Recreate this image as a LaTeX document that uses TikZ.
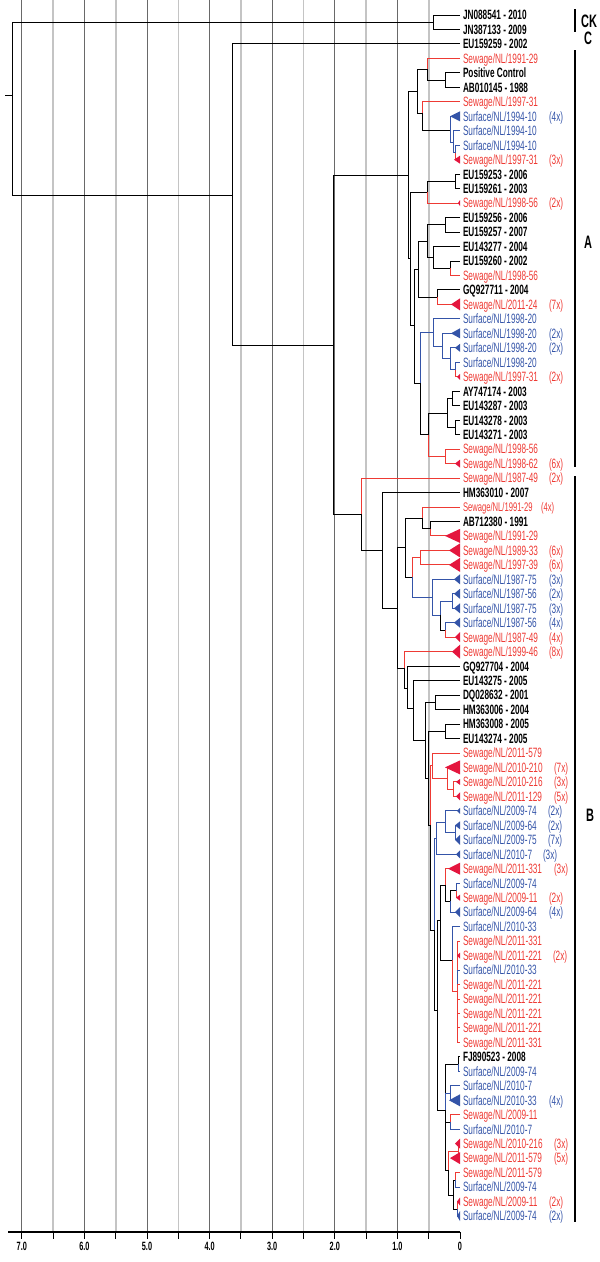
\documentclass[tikz,border=0pt]{standalone}
\usepackage{fontspec}
\setmainfont{Liberation Sans}[FakeStretch=0.61]
\usetikzlibrary{positioning}
\definecolor{sewred}{RGB}{238,58,52}
\definecolor{surblue}{RGB}{52,84,168}
\definecolor{trired}{RGB}{228,22,62}
\definecolor{lightgrey}{RGB}{196,196,196}
\definecolor{darkgrey}{RGB}{105,105,105}
\newcommand*{\leaffont}{\fontsize{13.5}{14}\selectfont}
\newcommand*{\branch}[3][bk]{\draw[#1] (#2) |- (#3);}
\newcommand*{\collapse}[4]{\fill[#1] (#2.west) ++(-#3,0) -- ++(#3,-#4) -- ++(0,2*#4) -- cycle;}
\tikzstyle{base}=[x=1pt, y=-1pt, inner sep=0pt, outer sep=0pt]
\tikzstyle{acc}=[anchor=west, inner xsep=3pt, text height=9.7pt, text depth=0pt, font=\leaffont\bfseries]
\tikzstyle{sew}=[acc, font=\leaffont, text=sewred]
\tikzstyle{sur}=[acc, font=\leaffont, text=surblue]
\tikzstyle{cnt}=[anchor=west, text height=9.7pt, text depth=0pt, font=\leaffont]
\tikzstyle{cntr}=[cnt, text=sewred]
\tikzstyle{cntb}=[cnt, text=surblue]
\tikzstyle{bk}=[line width=1pt, black]
\tikzstyle{rd}=[line width=1pt, sewred]
\tikzstyle{bl}=[line width=1pt, surblue]
\tikzstyle{gridmaj}=[line width=0.9pt, darkgrey]
\tikzstyle{gridmin}=[line width=1.6pt, lightgrey]
\tikzstyle{clade}=[font=\fontsize{18}{18}\selectfont\bfseries]
\tikzstyle{axlab}=[font=\fontsize{12}{12}\selectfont\bfseries]

\begin{document}
\begin{tikzpicture}[base]
    \useasboundingbox (0,0) rectangle (600,1262);
    % grid
    \draw[gridmin] (428.7,0) -- (428.7,1232);
    \draw[gridmaj] (397.4,0) -- (397.4,1232);
    \draw[gridmin] (366.1,0) -- (366.1,1232);
    \draw[gridmaj] (334.8,0) -- (334.8,1232);
    \draw[gridmin] (303.5,0) -- (303.5,1232);
    \draw[gridmaj] (272.2,0) -- (272.2,1232);
    \draw[gridmin] (240.9,0) -- (240.9,1232);
    \draw[gridmaj] (209.6,0) -- (209.6,1232);
    \draw[gridmin] (178.3,0) -- (178.3,1232);
    \draw[gridmaj] (147.0,0) -- (147.0,1232);
    \draw[gridmin] (115.7,0) -- (115.7,1232);
    \draw[gridmaj] (84.4,0) -- (84.4,1232);
    \draw[gridmin] (53.1,0) -- (53.1,1232);
    \draw[gridmaj] (21.8,0) -- (21.8,1232);
    % axis
    \draw[line width=1.4pt] (8,1232) -- (460,1232);
    \draw[line width=1pt] (460,1232) -- ++(0,7);
    \draw[line width=1pt] (428.7,1232) -- ++(0,7);
    \draw[line width=1pt] (397.4,1232) -- ++(0,7);
    \draw[line width=1pt] (366.1,1232) -- ++(0,7);
    \draw[line width=1pt] (334.8,1232) -- ++(0,7);
    \draw[line width=1pt] (303.5,1232) -- ++(0,7);
    \draw[line width=1pt] (272.2,1232) -- ++(0,7);
    \draw[line width=1pt] (240.9,1232) -- ++(0,7);
    \draw[line width=1pt] (209.6,1232) -- ++(0,7);
    \draw[line width=1pt] (178.3,1232) -- ++(0,7);
    \draw[line width=1pt] (147.0,1232) -- ++(0,7);
    \draw[line width=1pt] (115.7,1232) -- ++(0,7);
    \draw[line width=1pt] (84.4,1232) -- ++(0,7);
    \draw[line width=1pt] (53.1,1232) -- ++(0,7);
    \draw[line width=1pt] (21.8,1232) -- ++(0,7);
    \node[axlab] (ax0) at (460,1246) {0};
    \node[axlab] (ax1) at (397.4,1246) {1.0};
    \node[axlab] (ax2) at (334.8,1246) {2.0};
    \node[axlab] (ax3) at (272.2,1246) {3.0};
    \node[axlab] (ax4) at (209.6,1246) {4.0};
    \node[axlab] (ax5) at (147.0,1246) {5.0};
    \node[axlab] (ax6) at (84.4,1246) {6.0};
    \node[axlab] (ax7) at (21.8,1246) {7.0};

    % leaves
    \node[acc] (l1) at (460,15.0) {JN088541 - 2010};
    \node[acc] (l2) at (460,29.5) {JN387133 - 2009};
    \node[acc] (l3) at (460,43.9) {EU159259 - 2002};
    \node[sew] (l4) at (460,58.4) {Sewage/NL/1991-29};
    \node[acc] (l5) at (460,72.9) {Positive Control};
    \node[acc] (l6) at (460,87.4) {AB010145 - 1988};
    \node[sew] (l7) at (460,101.8) {Sewage/NL/1997-31};
    \node[sur] (l8) at (460,116.3) {Surface/NL/1994-10};
    \node[sur] (l9) at (460,130.8) {Surface/NL/1994-10};
    \node[sur] (l10) at (460,145.2) {Surface/NL/1994-10};
    \node[sew] (l11) at (460,159.7) {Sewage/NL/1997-31};
    \node[acc] (l12) at (460,174.2) {EU159253 - 2006};
    \node[acc] (l13) at (460,188.6) {EU159261 - 2003};
    \node[sew] (l14) at (460,203.1) {Sewage/NL/1998-56};
    \node[acc] (l15) at (460,217.6) {EU159256 - 2006};
    \node[acc] (l16) at (460,232.1) {EU159257 - 2007};
    \node[acc] (l17) at (460,246.5) {EU143277 - 2004};
    \node[acc] (l18) at (460,261.0) {EU159260 - 2002};
    \node[sew] (l19) at (460,275.5) {Sewage/NL/1998-56};
    \node[acc] (l20) at (460,289.9) {GQ927711 - 2004};
    \node[sew] (l21) at (460,304.4) {Sewage/NL/2011-24};
    \node[sur] (l22) at (460,318.9) {Surface/NL/1998-20};
    \node[sur] (l23) at (460,333.3) {Surface/NL/1998-20};
    \node[sur] (l24) at (460,347.8) {Surface/NL/1998-20};
    \node[sur] (l25) at (460,362.3) {Surface/NL/1998-20};
    \node[sew] (l26) at (460,376.8) {Sewage/NL/1997-31};
    \node[acc] (l27) at (460,391.2) {AY747174 - 2003};
    \node[acc] (l28) at (460,405.7) {EU143287 - 2003};
    \node[acc] (l29) at (460,420.2) {EU143278 - 2003};
    \node[acc] (l30) at (460,434.6) {EU143271 - 2003};
    \node[sew] (l31) at (460,449.1) {Sewage/NL/1998-56};
    \node[sew] (l32) at (460,463.6) {Sewage/NL/1998-62};
    \node[sew] (l33) at (460,478.0) {Sewage/NL/1987-49};
    \node[acc] (l34) at (460,492.5) {HM363010 - 2007};
    \node[sew, font=\fontsize{12.5}{13}\selectfont] (l35) at (460,507.0) {Sewage/NL/1991-29};
    \node[acc] (l36) at (460,521.5) {AB712380 - 1991};
    \node[sew] (l37) at (460,535.9) {Sewage/NL/1991-29};
    \node[sew] (l38) at (460,550.4) {Sewage/NL/1989-33};
    \node[sew] (l39) at (460,564.9) {Sewage/NL/1997-39};
    \node[sur] (l40) at (460,579.3) {Surface/NL/1987-75};
    \node[sur] (l41) at (460,593.8) {Surface/NL/1987-56};
    \node[sur] (l42) at (460,608.3) {Surface/NL/1987-75};
    \node[sur] (l43) at (460,622.7) {Surface/NL/1987-56};
    \node[sew] (l44) at (460,637.2) {Sewage/NL/1987-49};
    \node[sew] (l45) at (460,651.7) {Sewage/NL/1999-46};
    \node[acc] (l46) at (460,666.2) {GQ927704 - 2004};
    \node[acc] (l47) at (460,680.6) {EU143275 - 2005};
    \node[acc] (l48) at (460,695.1) {DQ028632 - 2001};
    \node[acc] (l49) at (460,709.6) {HM363006 - 2004};
    \node[acc] (l50) at (460,724.0) {HM363008 - 2005};
    \node[acc] (l51) at (460,738.5) {EU143274 - 2005};
    \node[sew] (l52) at (460,753.0) {Sewage/NL/2011-579};
    \node[sew] (l53) at (460,767.4) {Sewage/NL/2010-210};
    \node[sew] (l54) at (460,781.9) {Sewage/NL/2010-216};
    \node[sew] (l55) at (460,796.4) {Sewage/NL/2011-129};
    \node[sur] (l56) at (460,810.9) {Surface/NL/2009-74};
    \node[sur] (l57) at (460,825.3) {Surface/NL/2009-64};
    \node[sur] (l58) at (460,839.8) {Surface/NL/2009-75};
    \node[sur] (l59) at (460,854.3) {Surface/NL/2010-7};
    \node[sew] (l60) at (460,868.7) {Sewage/NL/2011-331};
    \node[sur] (l61) at (460,883.2) {Surface/NL/2009-74};
    \node[sew] (l62) at (460,897.7) {Sewage/NL/2009-11};
    \node[sur] (l63) at (460,912.1) {Surface/NL/2009-64};
    \node[sur] (l64) at (460,926.6) {Surface/NL/2010-33};
    \node[sew] (l65) at (460,941.1) {Sewage/NL/2011-331};
    \node[sew] (l66) at (460,955.6) {Sewage/NL/2011-221};
    \node[sur] (l67) at (460,970.0) {Surface/NL/2010-33};
    \node[sew] (l68) at (460,984.5) {Sewage/NL/2011-221};
    \node[sew] (l69) at (460,999.0) {Sewage/NL/2011-221};
    \node[sew] (l70) at (460,1013.4) {Sewage/NL/2011-221};
    \node[sew] (l71) at (460,1027.9) {Sewage/NL/2011-221};
    \node[sew] (l72) at (460,1042.4) {Sewage/NL/2011-331};
    \node[acc] (l73) at (460,1056.8) {FJ890523 - 2008};
    \node[sur] (l74) at (460,1071.3) {Surface/NL/2009-74};
    \node[sur] (l75) at (460,1085.8) {Surface/NL/2010-7};
    \node[sur] (l76) at (460,1100.3) {Surface/NL/2010-33};
    \node[sew] (l77) at (460,1114.7) {Sewage/NL/2009-11};
    \node[sur] (l78) at (460,1129.2) {Surface/NL/2010-7};
    \node[sew] (l79) at (460,1143.7) {Sewage/NL/2010-216};
    \node[sew] (l80) at (460,1158.1) {Sewage/NL/2011-579};
    \node[sew] (l81) at (460,1172.6) {Sewage/NL/2011-579};
    \node[sur] (l82) at (460,1187.1) {Surface/NL/2009-74};
    \node[sew] (l83) at (460,1201.5) {Sewage/NL/2009-11};
    \node[sur] (l84) at (460,1216.0) {Surface/NL/2009-74};

    % counts
    \node[cntb] (c8) at (549,116.3) {(4x)};
    \node[cntr] (c11) at (549,159.7) {(3x)};
    \node[cntr] (c14) at (549,203.1) {(2x)};
    \node[cntr] (c21) at (549,304.4) {(7x)};
    \node[cntb] (c23) at (549,333.3) {(2x)};
    \node[cntb] (c24) at (549,347.8) {(2x)};
    \node[cntr] (c26) at (549,376.8) {(2x)};
    \node[cntr] (c32) at (549,463.6) {(6x)};
    \node[cntr] (c33) at (549,478.0) {(2x)};
    \node[cntr, font=\fontsize{12.5}{13}\selectfont] (c35) at (541,507.0) {(4x)};
    \node[cntr] (c38) at (549,550.4) {(6x)};
    \node[cntr] (c39) at (549,564.9) {(6x)};
    \node[cntb] (c40) at (549,579.3) {(3x)};
    \node[cntb] (c41) at (549,593.8) {(2x)};
    \node[cntb] (c42) at (549,608.3) {(3x)};
    \node[cntb] (c43) at (549,622.7) {(4x)};
    \node[cntr] (c44) at (549,637.2) {(4x)};
    \node[cntr] (c45) at (549,651.7) {(8x)};
    \node[cntr] (c53) at (554,767.4) {(7x)};
    \node[cntr] (c54) at (554,781.9) {(3x)};
    \node[cntr] (c55) at (554,796.4) {(5x)};
    \node[cntb] (c56) at (548,810.9) {(2x)};
    \node[cntb] (c57) at (548,825.3) {(2x)};
    \node[cntb] (c58) at (548,839.8) {(7x)};
    \node[cntb] (c59) at (543,854.3) {(3x)};
    \node[cntr] (c60) at (554,868.7) {(3x)};
    \node[cntr] (c62) at (549,897.7) {(2x)};
    \node[cntb] (c63) at (549,912.1) {(4x)};
    \node[cntr] (c66) at (553,955.6) {(2x)};
    \node[cntb] (c76) at (549,1100.3) {(4x)};
    \node[cntr] (c79) at (554,1143.7) {(3x)};
    \node[cntr] (c80) at (554,1158.1) {(5x)};
    \node[cntr] (c83) at (549,1201.5) {(2x)};
    \node[cntb] (c84) at (549,1216.0) {(2x)};

    % clades
    \draw[line width=2pt] (575,9) -- (575,32);
    \draw[line width=2pt] (575,50) -- (575,467);
    \draw[line width=2pt] (575,476) -- (575,1222);
    \node[clade] (labCK) at (589,21) {CK};
    \node[clade] (labC) at (588,38) {C};
    \node[clade] (labA) at (588,242) {A};
    \node[clade] (labB) at (590,815) {B};

    % tree: backbone
    \coordinate (rstub) at (5,95);
    \coordinate (root) at (12,95);
    \coordinate (nCK) at (433,22.2);
    \coordinate (nABC) at (232,195);
    \coordinate (nAB) at (333,345);
    \draw[bk] (rstub) -- (root);
    \branch{root}{nCK}
    \branch{root}{nABC}
    \branch{nCK}{l1}
    \branch{nCK}{l2}
    \branch{nABC}{l3}
    \branch{nABC}{nAB}

    % clade A
    \coordinate (nA) at (408,175);
    \coordinate (nA2) at (410,258.5);
    \coordinate (nA3) at (414,325);
    \coordinate (npc) at (445,80.1);
    \coordinate (n1) at (427,69);
    \coordinate (nbl3) at (455,152.5);
    \coordinate (nbl2) at (453,142);
    \coordinate (nbl1) at (450,130);
    \coordinate (n2) at (422,113);
    \coordinate (n3) at (417,91);
    \coordinate (neu) at (455,181.4);
    \coordinate (n4) at (427,192);
    \coordinate (n5) at (445,224.8);
    \coordinate (n6) at (450,268.2);
    \coordinate (n7) at (433,257);
    \coordinate (n8) at (427,241);
    \coordinate (n9) at (437,297.2);
    \coordinate (n10) at (418,269);
    \coordinate (nb4) at (455,369.5);
    \coordinate (nb3) at (450,358.7);
    \coordinate (nb2) at (442,346);
    \coordinate (nb1) at (433,332.5);
    \coordinate (nay2) at (452,398.5);
    \coordinate (nay0) at (455,427.4);
    \coordinate (nay1) at (447,413);
    \coordinate (ns) at (445,456.3);
    \coordinate (nay) at (428,434.6);
    \coordinate (n11) at (420,383);
    \branch{nAB}{nA}
    \branch{nA}{n3}
    \branch{nA}{nA2}
    \branch{nA2}{n4}
    \branch{nA2}{nA3}
    \branch{nA3}{n10}
    \branch{nA3}{n11}
    \branch{n3}{n1}
    \branch{n3}{n2}
    \branch[rd]{n1}{l4}
    \branch{n1}{npc}
    \branch{npc}{l5}
    \branch{npc}{l6}
    \branch[rd]{n2}{l7}
    \branch{n2}{nbl1}
    \branch[bl]{nbl1}{l8}
    \branch[bl]{nbl1}{nbl2}
    \branch[bl]{nbl2}{l9}
    \branch[bl]{nbl2}{nbl3}
    \branch[bl]{nbl3}{l10}
    \branch[rd]{nbl3}{l11}
    \branch{n4}{neu}
    \branch[rd]{n4}{l14}
    \branch{neu}{l12}
    \branch{neu}{l13}
    \branch{n10}{n8}
    \branch{n10}{n9}
    \branch{n8}{n5}
    \branch{n8}{n7}
    \branch{n5}{l15}
    \branch{n5}{l16}
    \branch{n7}{l17}
    \branch{n7}{n6}
    \branch{n6}{l18}
    \branch[rd]{n6}{l19}
    \branch{n9}{l20}
    \branch[rd]{n9}{l21}
    \branch[bl]{n11}{nb1}
    \branch{n11}{nay}
    \branch[bl]{nb1}{l22}
    \branch[bl]{nb1}{nb2}
    \branch[bl]{nb2}{l23}
    \branch[bl]{nb2}{nb3}
    \branch[bl]{nb3}{l24}
    \branch[bl]{nb3}{nb4}
    \branch[bl]{nb4}{l25}
    \branch[rd]{nb4}{l26}
    \branch{nay}{nay1}
    \branch[rd]{nay}{ns}
    \branch{nay1}{nay2}
    \branch{nay1}{nay0}
    \branch{nay2}{l27}
    \branch{nay2}{l28}
    \branch{nay0}{l29}
    \branch{nay0}{l30}
    \branch[rd]{ns}{l31}
    \branch[rd]{ns}{l32}

    % clade B
    \coordinate (nB) at (361,514);
    \coordinate (nB1) at (382,550);
    \coordinate (nB2) at (397,608);
    \coordinate (nB3) at (405,547.5);
    \coordinate (nB3b) at (422,518);
    \coordinate (nB3a) at (430,528.7);
    \coordinate (nB3e) at (412,577);
    \coordinate (nB3c) at (420,557.7);
    \coordinate (nblc) at (432,597);
    \coordinate (nblb) at (440,615);
    \coordinate (nbla) at (452,601);
    \coordinate (nblm) at (445,630);
    \coordinate (nB4) at (404,668);
    \coordinate (nB5) at (407,688);
    \coordinate (nB6) at (413,708);
    \coordinate (nB7) at (425,740);
    \coordinate (nB7b) at (428,778);
    \coordinate (nd1) at (435,702.4);
    \coordinate (nd2) at (445,731.3);
    \coordinate (nB9) at (430,825);
    \coordinate (nB10) at (434,930);
    \coordinate (nB11) at (437,1010);
    \coordinate (nr1) at (453,789.2);
    \coordinate (nr2) at (447,778);
    \coordinate (nr3) at (432,765.5);
    \coordinate (nbu1) at (455,832.6);
    \coordinate (nbu2) at (445,822);
    \coordinate (nbu3) at (436,838);
    \coordinate (nx1) at (456,890.5);
    \coordinate (nx2) at (450,901);
    \coordinate (nx3) at (445,885);
    \coordinate (nx4) at (457,991.8);
    \coordinate (nx5) at (452,960);
    \coordinate (nx6) at (440,920);
    \coordinate (nz1) at (458,1064);
    \coordinate (nz2) at (450,1093);
    \coordinate (nz3) at (450,1122);
    \coordinate (nz4) at (458,1151);
    \coordinate (nz5) at (455,1180);
    \coordinate (nz6) at (457,1209);
    \coordinate (nz7) at (453,1195);
    \coordinate (nz8) at (448,1170);
    \coordinate (nz9) at (445,1110);
    \branch{nAB}{nB}
    \branch[rd]{nB}{l33}
    \branch{nB}{nB1}
    \branch{nB1}{l34}
    \branch{nB1}{nB2}
    \branch{nB2}{nB3}
    \branch{nB2}{nB4}
    \branch{nB3}{nB3b}
    \branch{nB3}{nB3e}
    \branch[rd]{nB3b}{l35}
    \branch{nB3b}{nB3a}
    \branch{nB3a}{l36}
    \branch[rd]{nB3a}{l37}
    \branch[rd]{nB3e}{nB3c}
    \branch[bl]{nB3e}{nblc}
    \branch[rd]{nB3c}{l38}
    \branch[rd]{nB3c}{l39}
    \branch[bl]{nblc}{l40}
    \branch[bl]{nblc}{nblb}
    \branch[bl]{nblb}{nbla}
    \branch{nblb}{nblm}
    \branch[bl]{nbla}{l41}
    \branch[bl]{nbla}{l42}
    \branch[bl]{nblm}{l43}
    \branch[rd]{nblm}{l44}
    \branch[rd]{nB4}{l45}
    \branch{nB4}{nB5}
    \branch{nB5}{l46}
    \branch{nB5}{nB6}
    \branch{nB6}{l47}
    \branch{nB6}{nB7}
    \branch{nB7}{nd1}
    \branch{nB7}{nB7b}
    \branch{nB7b}{nd2}
    \branch{nB7b}{nB9}
    \branch{nd1}{l48}
    \branch{nd1}{l49}
    \branch{nd2}{l50}
    \branch{nd2}{l51}
    \branch[rd]{nB9}{nr3}
    \branch{nB9}{nB10}
    \branch[rd]{nr3}{l52}
    \branch[rd]{nr3}{nr2}
    \branch[rd]{nr2}{l53}
    \branch[rd]{nr2}{nr1}
    \branch[rd]{nr1}{l54}
    \branch[rd]{nr1}{l55}
    \branch[bl]{nB10}{nbu3}
    \branch{nB10}{nB11}
    \branch[bl]{nbu3}{nbu2}
    \branch[bl]{nbu3}{l59}
    \branch[bl]{nbu2}{l56}
    \branch[bl]{nbu2}{nbu1}
    \branch[bl]{nbu1}{l57}
    \branch[bl]{nbu1}{l58}
    \branch{nB11}{nx6}
    \branch{nB11}{nz9}
    \branch{nx6}{nx3}
    \branch{nx6}{nx5}
    \branch[rd]{nx3}{l60}
    \branch{nx3}{nx2}
    \branch{nx2}{nx1}
    \branch[bl]{nx2}{l63}
    \branch[bl]{nx1}{l61}
    \branch[rd]{nx1}{l62}
    \branch[bl]{nx5}{l64}
    \branch[rd]{nx5}{nx4}
    \branch[rd]{nx4}{l65}
    \branch[rd]{nx4}{l66}
    \branch[bl]{nx4}{l67}
    \branch[rd]{nx4}{l68}
    \branch[rd]{nx4}{l69}
    \branch[rd]{nx4}{l70}
    \branch[rd]{nx4}{l71}
    \branch[rd]{nx4}{l72}
    \branch{nz9}{nz1}
    \branch[bl]{nz9}{nz2}
    \branch{nz9}{nz3}
    \branch{nz9}{nz8}
    \branch{nz1}{l73}
    \branch[bl]{nz1}{l74}
    \branch[bl]{nz2}{l75}
    \branch[bl]{nz2}{l76}
    \branch[rd]{nz3}{l77}
    \branch[bl]{nz3}{l78}
    \branch[rd]{nz8}{nz4}
    \branch{nz8}{nz7}
    \branch[rd]{nz4}{l79}
    \branch[rd]{nz4}{l80}
    \branch{nz7}{nz5}
    \branch{nz7}{nz6}
    \branch[rd]{nz5}{l81}
    \branch[bl]{nz5}{l82}
    \branch[rd]{nz6}{l83}
    \branch[bl]{nz6}{l84}

    % collapsed clades
    \collapse{surblue}{l8}{10}{5}
    \collapse{trired}{l11}{6}{4}
    \collapse{trired}{l14}{2}{3}
    \collapse{trired}{l21}{9}{6}
    \collapse{surblue}{l23}{9}{5}
    \collapse{surblue}{l24}{5}{4}
    \collapse{trired}{l26}{3}{3}
    \collapse{trired}{l32}{5}{4}
    \collapse{trired}{l37}{15}{7}
    \collapse{trired}{l38}{11}{7}
    \collapse{trired}{l39}{11}{7}
    \collapse{surblue}{l40}{6}{5}
    \collapse{surblue}{l41}{6}{5}
    \collapse{surblue}{l42}{6}{5}
    \collapse{surblue}{l43}{6}{5}
    \collapse{trired}{l44}{5}{5}
    \collapse{trired}{l45}{8}{7}
    \collapse{trired}{l53}{15}{7}
    \collapse{trired}{l54}{4}{3}
    \collapse{trired}{l55}{4}{4}
    \collapse{surblue}{l56}{3}{3}
    \collapse{surblue}{l57}{5}{4}
    \collapse{surblue}{l58}{5}{5}
    \collapse{surblue}{l59}{4}{4}
    \collapse{trired}{l60}{12}{6}
    \collapse{trired}{l62}{4}{3}
    \collapse{surblue}{l63}{5}{5}
    \collapse{trired}{l66}{3}{3}
    \collapse{surblue}{l76}{11}{6}
    \collapse{trired}{l79}{5}{5}
    \collapse{trired}{l80}{10}{6}
    \collapse{trired}{l83}{3}{4}
    \collapse{surblue}{l84}{3}{5}
\end{tikzpicture}
\end{document}
